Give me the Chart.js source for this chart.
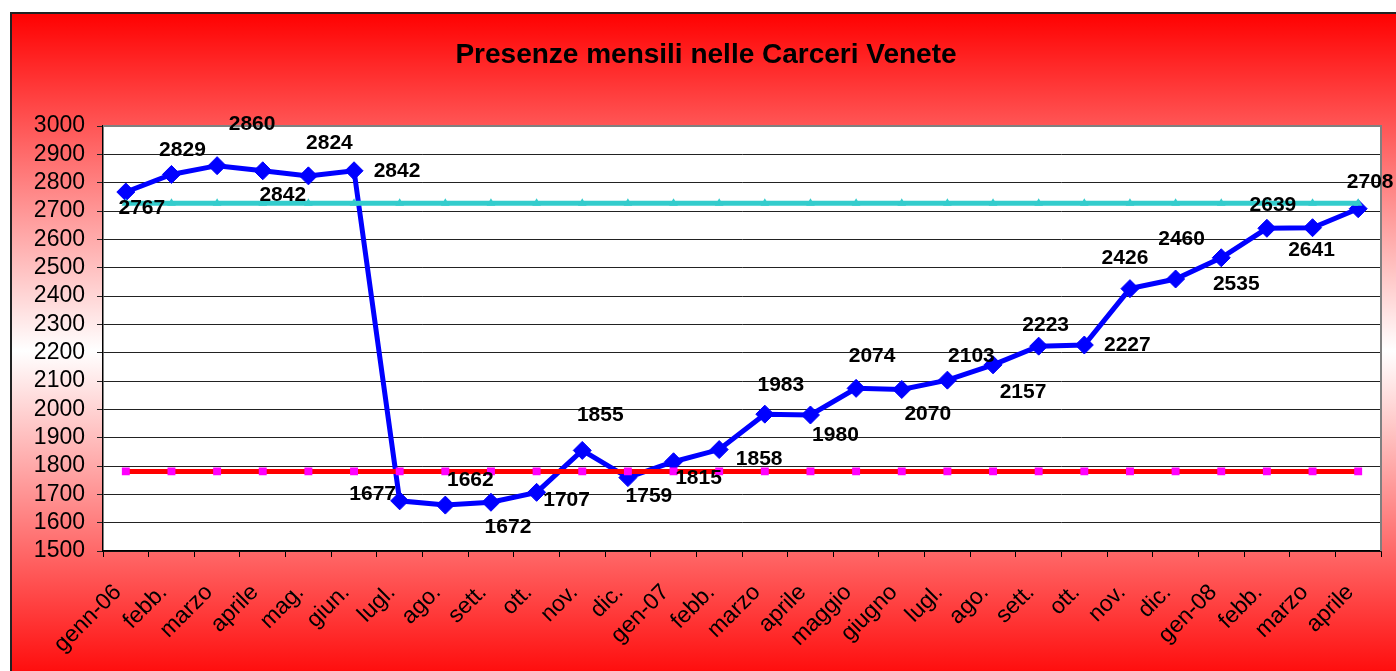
<!DOCTYPE html>
<html>
<head>
<meta charset="utf-8">
<script src="https://cdn.jsdelivr.net/npm/chart.js@4.4.1/dist/chart.umd.min.js"></script>
<style>
  body { margin: 0; background: #fff; }
  canvas { display: block; }
</style>
</head>
<body>
<canvas id="chart1" width="1396" height="671"></canvas>
<script>
// data
const labels = ['genn-06', 'febb.', 'marzo', 'aprile', 'mag.', 'giun.', 'lugl.', 'ago.', 'sett.', 'ott.', 'nov.', 'dic.',
    'gen-07', 'febb.', 'marzo', 'aprile', 'maggio', 'giugno', 'lugl.', 'ago.', 'sett.', 'ott.', 'nov.', 'dic.',
    'gen-08', 'febb.', 'marzo', 'aprile'];
const presenze = [2767, 2829, 2860, 2842, 2824, 2842, 1677, 1662, 1672, 1707, 1855, 1759,
    1815, 1858, 1983, 1980, 2074, 2070, 2103, 2157, 2223, 2227, 2426, 2460,
    2535, 2639, 2641, 2708];
const livelloAlto = labels.map(() => 2727);
const livelloBasso = labels.map(() => 1781);
const yTicks = { min: 1500, max: 3000, step: 100 };

// where each value label sits relative to its point (dx, dy in px)
const labelOffsets = [
    [16, 16], [11, -24], [35, -41], [20, 24], [21, -33], [43, 0],
    [-27, -7], [25, -25], [17, 25], [30, 8], [18, -35], [21, 19],
    [25, 16], [40, 10], [16, -29], [25, 20], [16, -32], [26, 25],
    [24, -24], [30, 27], [7, -21], [43, 0], [-5, -30], [6, -40],
    [15, 26], [6, -23], [-1, 22], [12, -27]
];

const FONT = "'Liberation Sans', Arial, sans-serif";

const backgroundPlugin = {
    id: 'background',
    beforeDraw(chart) {
        const c = chart.ctx;
        const area = chart.chartArea;
        c.save();
        c.fillStyle = '#fff';
        c.fillRect(0, 0, chart.width, chart.height);
        const g = c.createLinearGradient(0, 12, 0, 690);
        g.addColorStop(0, '#ff0000');
        g.addColorStop(0.5, '#ffffff');
        g.addColorStop(1, '#ff0000');
        c.fillStyle = g;
        c.fillRect(10, 12, chart.width - 10, chart.height - 12);
        c.strokeStyle = '#222';
        c.lineWidth = 2;
        c.beginPath();
        c.moveTo(11, chart.height);
        c.lineTo(11, 13);
        c.lineTo(chart.width, 13);
        c.stroke();
        // plot area
        c.fillStyle = '#fff';
        c.fillRect(area.left, area.top, area.right - area.left, area.bottom - area.top);
        // title
        c.fillStyle = '#000';
        c.font = 'bold 28px ' + FONT;
        c.textAlign = 'center';
        c.textBaseline = 'alphabetic';
        c.fillText('Presenze mensili nelle Carceri Venete', 706, 63);
        c.restore();
    },
    beforeDatasetsDraw(chart) {
        const c = chart.ctx;
        const area = chart.chartArea;
        c.save();
        c.strokeStyle = '#808080';
        c.lineWidth = 2;
        c.beginPath();
        c.moveTo(area.left, area.top);
        c.lineTo(area.right, area.top);
        c.lineTo(area.right, area.bottom);
        c.stroke();
        c.restore();
    }
};

const valueLabels = {
    id: 'valueLabels',
    afterDatasetsDraw(chart) {
        const c = chart.ctx;
        const meta = chart.getDatasetMeta(2);
        c.save();
        c.fillStyle = '#000';
        c.font = 'bold 21px ' + FONT;
        c.textAlign = 'center';
        c.textBaseline = 'middle';
        meta.data.forEach((pt, i) => {
            const off = labelOffsets[i];
            c.fillText(String(presenze[i]), pt.x + off[0], pt.y + off[1]);
        });
        c.restore();
    }
};

const data = {
    labels: labels,
    datasets: [
        {
            label: 'alto',
            data: livelloAlto,
            borderColor: '#33cccc',
            backgroundColor: '#33cccc',
            borderWidth: 5,
            pointStyle: 'triangle',
            pointRadius: 5,
            pointBorderWidth: 0
        },
        {
            label: 'basso',
            data: livelloBasso,
            borderColor: '#ff0000',
            backgroundColor: '#ff00ff',
            borderWidth: 5,
            pointStyle: 'rect',
            pointRadius: 5.6,
            pointBorderWidth: 0
        },
        {
            label: 'presenze',
            data: presenze,
            borderColor: '#0000ff',
            backgroundColor: '#0000ff',
            borderWidth: 5,
            pointStyle: 'rectRot',
            pointRadius: 9,
            pointBorderWidth: 1
        }
    ]
};

const options = {
    responsive: false,
    animation: false,
    devicePixelRatio: 1,
    layout: { padding: { top: 126, left: 0, right: 15, bottom: 0 } },
    plugins: {
        legend: { display: false },
        title: { display: false },
        tooltip: { enabled: false }
    },
    elements: { line: { tension: 0 } },
    scales: {
        x: {
            offset: true,
            grid: { offset: true, drawOnChartArea: false, drawTicks: true, tickLength: 6, color: '#000' },
            border: { display: true, color: '#000', width: 1.5 },
            ticks: {
                autoSkip: false,
                minRotation: 45,
                maxRotation: 45,
                padding: 22,
                labelOffset: -8,
                color: '#000',
                font: { family: FONT, size: 23 }
            },
            afterFit(scale) {
                scale.height = 120;
                scale.paddingLeft = 0;
                scale.paddingRight = 0;
            }
        },
        y: {
            min: yTicks.min,
            max: yTicks.max,
            grid: { color: '#222', lineWidth: 1, tickLength: 6 },
            border: { display: true, color: '#000', width: 1.5 },
            ticks: {
                stepSize: yTicks.step,
                autoSkip: false,
                padding: 12,
                color: '#000',
                font: { family: FONT, size: 23 },
                callback: (v) => String(v)
            },
            afterFit(scale) { scale.width = 103; }
        }
    }
};

const ctx = document.getElementById('chart1').getContext('2d');
const myChart = new Chart(ctx, {
    type: 'line',
    data: data,
    options: options,
    plugins: [backgroundPlugin, valueLabels]
});
</script>
</body>
</html>
